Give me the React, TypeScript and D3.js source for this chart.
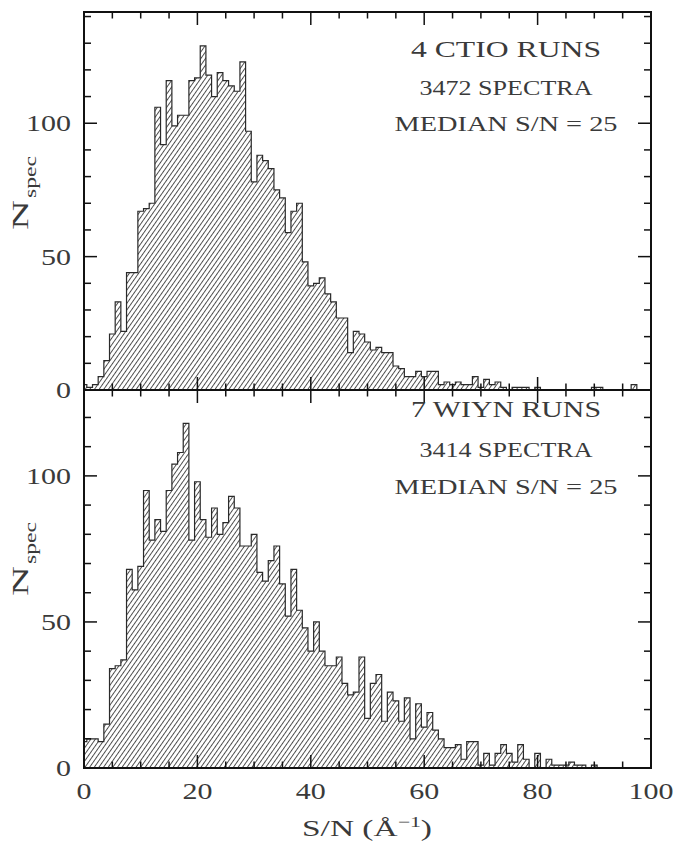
import React from "react";
import * as d3 from "d3";

// counts per unit S/N bin (bin centred on integer S/N, 0..99)
const ctioCounts = [
  2, 1, 2, 5, 11, 21, 33, 22, 44, 44,
  67, 68, 70, 106, 92, 116, 99, 103, 103, 116,
  117, 129, 118, 110, 119, 116, 114, 112, 123, 97,
  78, 88, 86, 83, 75, 72, 59, 67, 70, 48,
  39, 40, 42, 36, 33, 27, 27, 14, 22, 21,
  18, 15, 16, 14, 14, 9, 8, 5, 5, 7,
  5, 7, 7, 2, 3, 2, 3, 2, 2, 5,
  1, 4, 2, 3, 1, 0, 1, 1, 1, 0,
  1, 0, 0, 0, 0, 0, 0, 0, 0, 0,
  1, 1, 0, 0, 0, 0, 0, 2, 0, 0,
];

const wiynCounts = [
  9, 10, 10, 9, 15, 34, 35, 37, 68, 61,
  69, 95, 78, 85, 81, 95, 104, 108, 118, 78,
  98, 85, 79, 89, 80, 84, 93, 89, 76, 76,
  80, 67, 64, 71, 76, 63, 52, 68, 54, 48,
  40, 50, 40, 35, 35, 38, 29, 25, 26, 38,
  17, 29, 32, 16, 26, 23, 16, 24, 10, 22,
  14, 19, 13, 10, 7, 7, 8, 3, 9, 9,
  1, 5, 1, 5, 8, 5, 2, 8, 3, 0,
  5, 0, 3, 1, 1, 1, 2, 1, 1, 0,
  1, 0, 0, 0, 0, 0, 0, 0, 0, 0,
];

const ctioLabels = ["4 CTIO RUNS", "3472 SPECTRA", "MEDIAN S/N = 25"];
const wiynLabels = ["7 WIYN RUNS", "3414 SPECTRA", "MEDIAN S/N = 25"];

const xTickLabels = [0, 20, 40, 60, 80, 100];
const yTickLabels = [0, 50, 100];

const W = 675;
const H = 844;
const left = 84;
const right = 651;
const font = "'Liberation Serif', 'DejaVu Serif', serif";
const ink = "#3a3a3a";

const x = d3.scaleLinear().domain([0, 100]).range([left, right]);

function stepPoints(counts: number[]): [number, number][] {
  const pts: [number, number][] = [[0, 0]];
  counts.forEach((c, i) => {
    const lo = Math.max(0, i - 0.5);
    const hi = Math.min(100, i + 0.5);
    pts.push([lo, c], [hi, c]);
  });
  pts.push([counts.length - 0.5, 0]);
  return pts;
}

function Panel({ counts, labels, top, bottom, yMax, lineYs, nLabelY }: any) {
  const y = d3.scaleLinear().domain([0, yMax]).range([bottom, top]);
  const line = d3.line<[number, number]>()
    .x(d => x(d[0]))
    .y(d => y(d[1]));
  const path = line(stepPoints(counts)) || "";

  const xt = d3.range(0, 101, 5);
  const yt = d3.range(0, yMax, 10);
  const sizes = [22.5, 20, 20];
  const widths = [190, 173, 223];

  return (
    <g>
      <path d={path + "Z"} fill="url(#hatch)" stroke="none" />
      <path d={path} fill="none" stroke="#2a2a2a" strokeWidth={1.2} />
      {xt.map(v => {
        const len = v % 20 === 0 ? 13 : 6.5;
        return (
          <g key={"x" + v}>
            <line x1={x(v)} x2={x(v)} y1={bottom} y2={bottom - len} stroke="#111" strokeWidth={1.5} />
            <line x1={x(v)} x2={x(v)} y1={top} y2={top + len} stroke="#111" strokeWidth={1.5} />
          </g>
        );
      })}
      {yt.map(v => {
        const len = v % 50 === 0 ? 13 : 7;
        return (
          <g key={"y" + v}>
            <line x1={left} x2={left + len} y1={y(v)} y2={y(v)} stroke="#111" strokeWidth={1.5} />
            <line x1={right} x2={right - len} y1={y(v)} y2={y(v)} stroke="#111" strokeWidth={1.5} />
          </g>
        );
      })}
      {yTickLabels.map(v => (
        <text key={"yl" + v} x={71} y={y(v) + 8} textAnchor="end" fontSize={23}
          fontFamily={font} fill={ink}
          textLength={String(v).length * 15} lengthAdjust="spacingAndGlyphs">{v}</text>
      ))}
      <g transform={`translate(28,${nLabelY}) rotate(-90)`}>
        <text x={-6} y={0} textAnchor="end" fontFamily={font} fill={ink} fontSize={23}
          textLength={30} lengthAdjust="spacingAndGlyphs">N</text>
        <text x={-4} y={8} textAnchor="start" fontFamily={font} fill={ink} fontSize={17}
          textLength={42} lengthAdjust="spacingAndGlyphs">spec</text>
      </g>
      {labels.map((s: string, i: number) => (
        <text key={s + i} x={506} y={lineYs[i]} textAnchor="middle" fontFamily={font}
          fontSize={sizes[i]} fill={ink} textLength={widths[i]} lengthAdjust="spacingAndGlyphs">{s}</text>
      ))}
      <rect x={left} y={top} width={right - left} height={bottom - top}
        fill="none" stroke="#111" strokeWidth={2} />
    </g>
  );
}

export default function App() {
  return (
    <svg width={W} height={H} viewBox={`0 0 ${W} ${H}`}
      style={{ position: "absolute", left: 0, top: 0, background: "#fff" }}>
      <defs>
        <pattern id="hatch" patternUnits="userSpaceOnUse" width={3.8} height={10}
          patternTransform="rotate(35)">
          <line x1={0.5} y1={0} x2={0.5} y2={10} stroke="#3a3a3a" strokeWidth={0.9} />
        </pattern>
      </defs>
      <rect width={W} height={H} fill="#fff" />
      <Panel counts={ctioCounts} labels={ctioLabels} top={12} bottom={390} yMax={141.7}
        lineYs={[57, 95, 131]} nLabelY={194} />
      <Panel counts={wiynCounts} labels={wiynLabels} top={390} bottom={768} yMax={129.4}
        lineYs={[417, 457, 494]} nLabelY={560} />
      {xTickLabels.map(v => (
        <text key={"xl" + v} x={x(v)} y={799} textAnchor="middle" fontSize={23}
          fontFamily={font} fill={ink}
          textLength={String(v).length * 15} lengthAdjust="spacingAndGlyphs">{v}</text>
      ))}
      <text x={367} y={836} textAnchor="middle" fontSize={23} fontFamily={font} fill={ink}
        textLength={130} lengthAdjust="spacingAndGlyphs">
        S/N (Å<tspan fontSize={15} dy={-9}>−1</tspan><tspan dy={9}>)</tspan>
      </text>
    </svg>
  );
}
